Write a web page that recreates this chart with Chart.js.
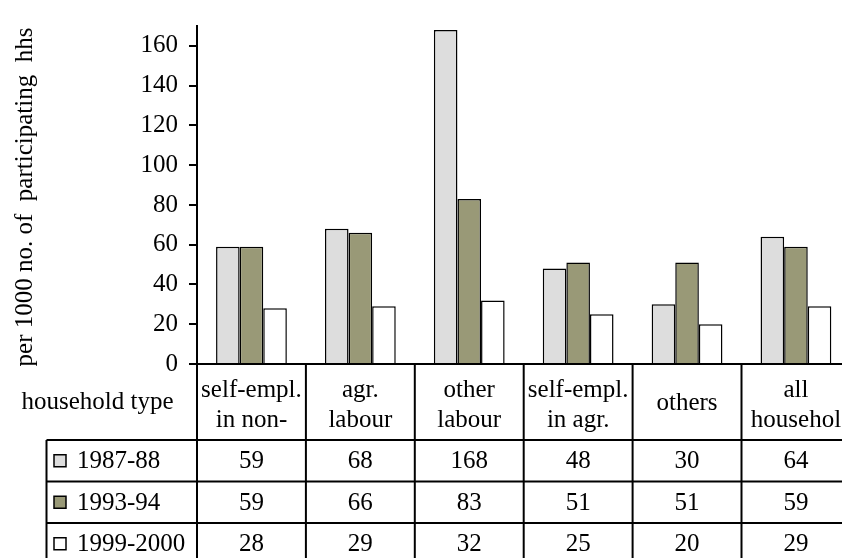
<!DOCTYPE html>
<html><head><meta charset="utf-8">
<script src="https://cdn.jsdelivr.net/npm/chart.js@4"></script>
<style>
html,body{margin:0;padding:0;background:#fff;}
#wrap{width:842px;height:558px;overflow:hidden;position:relative;background:#fff;}
canvas{display:block;}
</style></head><body>
<div id="wrap"><canvas id="c" width="880" height="600"></canvas></div>
<script>
// ---- data ----
const categories = [['self-empl.','in non-'],['agr.','labour'],['other','labour'],['self-empl.','in agr.'],['others'],['all','househol']];
const seriesNames = ['1987-88','1993-94','1999-2000'];
const values8788 = [59,68,168,48,30,64];
const values9394 = [59,66,83,51,51,59];
const values9900 = [28,29,32,25,20,29];
const yTickValues = [0,20,40,60,80,100,120,140,160];
const yAxisMax = 170;
const yTitle = 'per 1000 no. of  participating  hhs';
const tableCorner = 'household type';

// ---- style ----
const colors = ['#DDDDDD','#999977','#FFFFFF'];
const FAMILY = '"Liberation Serif", "Times New Roman", serif';
const FS = 25;
const FONT = FS + 'px ' + FAMILY;

const seriesValues = [values8788, values9394, values9900];

const tablePlugin = {
  id: 'dataTable',
  afterDraw(chart) {
    const ctx = chart.ctx, xs = chart.scales.x, area = chart.chartArea;
    const n = categories.length;
    const w = (xs.right - xs.left) / n;
    const y0 = area.bottom;
    const hdrH = 76, rowH = 41.5;
    const rowY = [y0 + hdrH, y0 + hdrH + rowH, y0 + hdrH + 2 * rowH, y0 + hdrH + 3 * rowH];
    const legLeft = 46.5;
    ctx.save();
    ctx.strokeStyle = '#000';
    ctx.lineWidth = 2;
    // horizontal lines
    rowY.forEach(y => {
      ctx.beginPath(); ctx.moveTo(legLeft, y); ctx.lineTo(xs.right, y); ctx.stroke();
    });
    // vertical lines at category boundaries
    for (let i = 0; i <= n; i++) {
      const x = xs.getPixelForValue(0) - w / 2 + i * w;
      ctx.beginPath(); ctx.moveTo(x, y0); ctx.lineTo(x, rowY[3]); ctx.stroke();
    }
    // legend column left edge
    ctx.beginPath(); ctx.moveTo(legLeft, rowY[0]); ctx.lineTo(legLeft, rowY[3]); ctx.stroke();

    ctx.fillStyle = '#000';
    ctx.font = FONT;
    ctx.textBaseline = 'middle';
    ctx.textAlign = 'center';
    // header labels
    categories.forEach((lab, i) => {
      const cx = xs.getPixelForValue(i);
      if (lab.length === 1) {
        ctx.fillText(lab[0], cx, y0 + 39);
      } else {
        ctx.fillText(lab[0], cx, y0 + 26);
        ctx.fillText(lab[1], cx, y0 + 56);
      }
    });
    ctx.fillText(tableCorner, 97.5, y0 + 38);
    // data rows
    seriesValues.forEach((vals, r) => {
      const cy = rowY[r] + rowH / 2 + 1;
      vals.forEach((v, i) => {
        ctx.fillText(String(v), xs.getPixelForValue(i), cy);
      });
      // legend key
      ctx.fillStyle = colors[r];
      ctx.fillRect(54, cy - 7, 12, 12);
      ctx.lineWidth = 1.5;
      ctx.strokeRect(54, cy - 7, 12, 12);
      ctx.lineWidth = 2;
      ctx.fillStyle = '#000';
      ctx.textAlign = 'left';
      ctx.fillText(seriesNames[r], 77, cy);
      ctx.textAlign = 'center';
    });
    // y axis title
    ctx.save();
    ctx.translate(25, 197);
    ctx.rotate(-Math.PI / 2);
    ctx.textAlign = 'center';
    ctx.fillText(yTitle, 0, 0);
    ctx.restore();
    ctx.restore();
  }
};

new Chart(document.getElementById('c'), {
  type: 'bar',
  data: {
    labels: categories.map(c => c.join(' ')),
    datasets: seriesNames.map((name, k) => ({
      label: name,
      data: seriesValues[k],
      backgroundColor: colors[k],
      borderColor: '#000',
      borderWidth: 1.5,
      categoryPercentage: 0.65,
      barPercentage: 1.0
    }))
  },
  options: {
    responsive: false,
    devicePixelRatio: 1,
    animation: false,
    layout: { padding: { left: 0, top: 14, right: 29.6, bottom: 236 } },
    plugins: { legend: { display: false }, tooltip: { enabled: false }, title: { display: false } },
    scales: {
      x: {
        grid: { display: false },
        ticks: { display: false },
        border: { display: true, color: '#000', width: 2 },
        afterFit(s) { s.height = 0; }
      },
      y: {
        min: 0,
        max: yAxisMax,
        afterBuildTicks(s) { s.ticks = yTickValues.map(v => ({ value: v })); },
        ticks: { color: '#000', font: { family: FAMILY, size: FS }, padding: 11, autoSkip: false },
        grid: { drawOnChartArea: false, drawTicks: true, tickLength: 8, color: '#000', lineWidth: 2 },
        border: { display: true, color: '#000', width: 2 },
        afterFit(s) { s.width = 197; }
      }
    }
  },
  plugins: [tablePlugin]
});
</script>
</body></html>
